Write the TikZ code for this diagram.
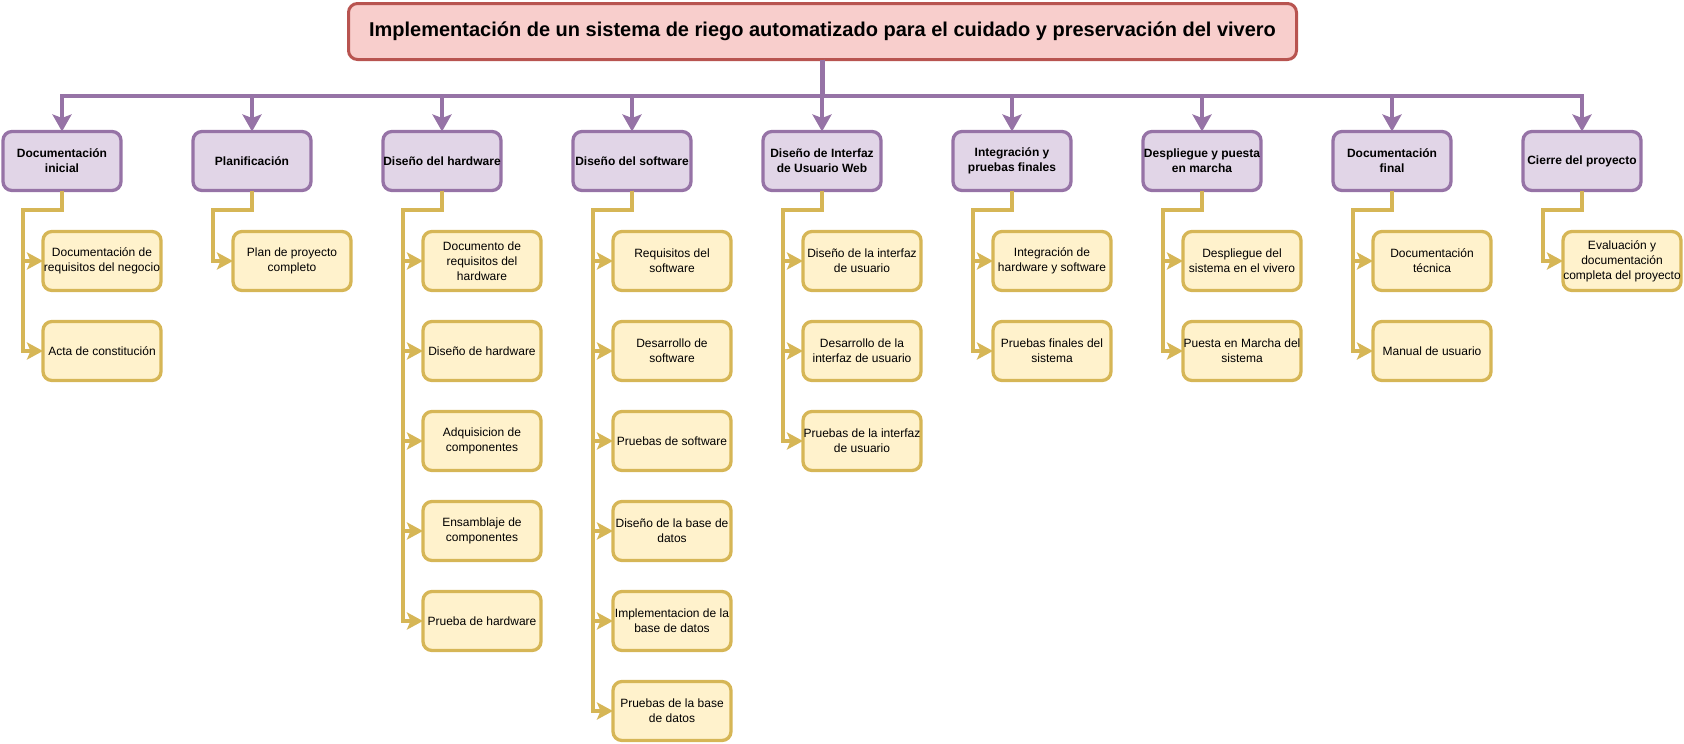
\documentclass[tikz,border=0pt]{standalone}
\usepackage{fontspec}
\setmainfont{Liberation Sans}
\usetikzlibrary{arrows.meta}
\definecolor{pfill}{HTML}{E1D5E7}
\definecolor{pdraw}{HTML}{9673A6}
\definecolor{yfill}{HTML}{FFF2CC}
\definecolor{ydraw}{HTML}{D6B656}
\definecolor{rfill}{HTML}{F8CECC}
\definecolor{rdraw}{HTML}{B85450}
\tikzset{
  boxbase/.style={line width=3.3pt, rounded corners=9pt, minimum width=118pt, minimum height=59pt, align=center, inner sep=0pt, outer sep=0pt, text=black},
  pbox/.style={boxbase, draw=pdraw, fill=pfill, font=\fontsize{12}{15}\selectfont\bfseries},
  ybox/.style={boxbase, draw=ydraw, fill=yfill, font=\fontsize{12}{15}\selectfont},
  titlebox/.style={line width=3pt, rounded corners=9pt, draw=rdraw, fill=rfill, minimum width=948pt, minimum height=56pt, inner sep=0pt, outer sep=0pt, font=\fontsize{20}{24}\selectfont\bfseries},
  parrow/.style={draw=pdraw, line width=4.6pt, -{Stealth[length=17pt,width=19pt,inset=3.5pt]}},
  yarrow/.style={draw=ydraw, line width=4.6pt, -{Stealth[length=16pt,width=17pt,inset=3.5pt]}}
}
\begin{document}
\begin{tikzpicture}[x=1pt,y=-1pt]
\useasboundingbox (0,0) rectangle (1684,744);
\node[titlebox] (title) at (822.5,31.5) {Implementación de un sistema de riego automatizado para el cuidado y preservación del vivero};

\node[pbox] (p0) at (62,161) {Documentación\\inicial};
\node[pbox] (p1) at (252,161) {Planificación};
\node[pbox] (p2) at (442,161) {Diseño del hardware};
\node[pbox] (p3) at (632,161) {Diseño del software};
\node[pbox] (p4) at (822,161) {Diseño de Interfaz\\de Usuario Web};
\node[pbox] (p5) at (1012,161) {Integración y\\pruebas finales};
\node[pbox] (p6) at (1202,161) {Despliegue y puesta\\en marcha};
\node[pbox] (p7) at (1392,161) {Documentación\\final};
\node[pbox] (p8) at (1582,161) {Cierre del proyecto};

\node[ybox] (c00) at (102,261) {Documentación de\\requisitos del negocio};
\node[ybox] (c01) at (102,351) {Acta de constitución};
\node[ybox] (c10) at (292,261) {Plan de proyecto\\completo};
\node[ybox] (c20) at (482,261) {Documento de\\requisitos del\\hardware};
\node[ybox] (c21) at (482,351) {Diseño de hardware};
\node[ybox] (c22) at (482,441) {Adquisicion de\\componentes};
\node[ybox] (c23) at (482,531) {Ensamblaje de\\componentes};
\node[ybox] (c24) at (482,621) {Prueba de hardware};
\node[ybox] (c30) at (672,261) {Requisitos del\\software};
\node[ybox] (c31) at (672,351) {Desarrollo de\\software};
\node[ybox] (c32) at (672,441) {Pruebas de software};
\node[ybox] (c33) at (672,531) {Diseño de la base de\\datos};
\node[ybox] (c34) at (672,621) {Implementacion de la\\base de datos};
\node[ybox] (c35) at (672,711) {Pruebas de la base\\de datos};
\node[ybox] (c40) at (862,261) {Diseño de la interfaz\\de usuario};
\node[ybox] (c41) at (862,351) {Desarrollo de la\\interfaz de usuario};
\node[ybox] (c42) at (862,441) {Pruebas de la interfaz\\de usuario};
\node[ybox] (c50) at (1052,261) {Integración de\\hardware y software};
\node[ybox] (c51) at (1052,351) {Pruebas finales del\\sistema};
\node[ybox] (c60) at (1242,261) {Despliegue del\\sistema en el vivero};
\node[ybox] (c61) at (1242,351) {Puesta en Marcha del\\sistema};
\node[ybox] (c70) at (1432,261) {Documentación\\técnica};
\node[ybox] (c71) at (1432,351) {Manual de usuario};
\node[ybox] (c80) at (1622,261) {Evaluación y\\documentación\\completa del proyecto};

\foreach \p in {p0,p1,p2,p3,p4,p5,p6,p7,p8}
  \draw[parrow] (title.south) -- ++(0,36.5) -| (\p.north);

\foreach \p/\c in {p0/c00,p0/c01,p1/c10,p2/c20,p2/c21,p2/c22,p2/c23,p2/c24,
  p3/c30,p3/c31,p3/c32,p3/c33,p3/c34,p3/c35,p4/c40,p4/c41,p4/c42,
  p5/c50,p5/c51,p6/c60,p6/c61,p7/c70,p7/c71,p8/c80}
  \draw[yarrow] (\p.south) -- ++(0,19.5) -- ++(-39,0) |- (\c.west);
\end{tikzpicture}
\end{document}
